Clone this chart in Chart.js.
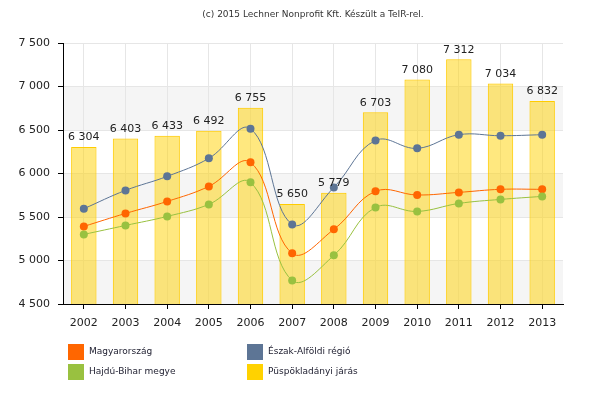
<!DOCTYPE html>
<html>
<head>
<meta charset="utf-8">
<script src="https://cdn.jsdelivr.net/npm/chart.js@4"></script>
<style>
  body { margin: 0; background: #fff; }
  #wrap { position: relative; width: 609px; height: 400px; }
  #legend { position: absolute; left: 68px; top: 344px; font: 9px 'DejaVu Sans', sans-serif; color: #223; }
  .item { position: absolute; width: 180px; height: 16px; }
  .item span.box { position: absolute; left: 0; top: 0; width: 16px; height: 16px; }
  .item span.txt { position: absolute; left: 21px; top: 2px; white-space: nowrap; }
</style>
</head>
<body>
<div id="wrap">
  <canvas id="chart" width="609" height="400"></canvas>
  <div id="legend"></div>
</div>
<script>
// data
const years = ['2002', '2003', '2004', '2005', '2006', '2007', '2008', '2009', '2010', '2011', '2012', '2013'];
const puspokladany = [6304, 6403, 6433, 6492, 6755, 5650, 5779, 6703, 7080, 7312, 7034, 6832];
const magyarorszag = [5392, 5541, 5679, 5852, 6128, 5082, 5358, 5795, 5753, 5783, 5818, 5818];
const eszakAlfold = [5595, 5806, 5967, 6174, 6515, 5415, 5840, 6380, 6289, 6446, 6434, 6446];
const hajduBihar = [5300, 5403, 5507, 5645, 5898, 4771, 5059, 5610, 5564, 5656, 5702, 5737];
const yTicks = [4500, 5000, 5500, 6000, 6500, 7000, 7500];

const titleText = '(c) 2015 Lechner Nonprofit Kft. Készült a TeIR-rel.';

function fmt(v) {
    return String(v).replace(/\B(?=(\d{3})+(?!\d))/g, ' ');
}

Chart.defaults.font.family = "'DejaVu Sans', sans-serif";
Chart.defaults.font.size = 11;
Chart.defaults.color = '#222';

// grey bands behind the grid
const bandsPlugin = {
    id: 'bands',
    beforeDraw(chart) {
        const ctx = chart.ctx, area = chart.chartArea, y = chart.scales.y;
        ctx.save();
        ctx.fillStyle = '#f5f5f5';
        for (let i = 0; i < yTicks.length - 1; i += 2) {
            const top = y.getPixelForValue(yTicks[i + 1]);
            const bottom = y.getPixelForValue(yTicks[i]);
            ctx.fillRect(area.left, top, area.right - area.left, bottom - top);
        }
        ctx.restore();
    }
};

// title text and values above the bars
const textPlugin = {
    id: 'texts',
    afterDatasetsDraw(chart) {
        const ctx = chart.ctx;
        ctx.save();
        ctx.font = "9px 'DejaVu Sans', sans-serif";
        ctx.fillStyle = '#333';
        ctx.textAlign = 'center';
        ctx.textBaseline = 'middle';
        ctx.fillText(titleText, 313, 15);

        ctx.font = "11px 'DejaVu Sans', sans-serif";
        ctx.fillStyle = '#222';
        ctx.textBaseline = 'bottom';
        const meta = chart.getDatasetMeta(3);
        meta.data.forEach((bar, i) => {
            ctx.fillText(fmt(puspokladany[i]), bar.x, bar.y - 4);
        });
        ctx.restore();
    }
};

function lineSet(label, data, color) {
    return {
        type: 'line',
        label: label,
        data: data,
        borderColor: color,
        backgroundColor: color,
        borderWidth: 1,
        pointRadius: 4,
        pointBorderWidth: 0,
        tension: 0.4,
        fill: false,
        order: 1
    };
}

const datasets = [
    lineSet('Hajdú-Bihar megye', hajduBihar, '#99c140'),
    lineSet('Magyarország', magyarorszag, '#ff6600'),
    lineSet('Észak-Alföldi régió', eszakAlfold, '#5d7595'),
    {
        type: 'bar',
        label: 'Püspökladányi járás',
        data: puspokladany,
        backgroundColor: 'rgba(255, 210, 0, 0.5)',
        borderColor: '#ffcc00',
        borderWidth: 1,
        barPercentage: 0.61,
        categoryPercentage: 1,
        order: 10
    }
];

new Chart(document.getElementById('chart').getContext('2d'), {
    type: 'bar',
    data: { labels: years, datasets: datasets },
    options: {
        responsive: false,
        animation: false,
        layout: { padding: { top: 43, right: 46, left: 0, bottom: 0 } },
        plugins: { legend: { display: false }, tooltip: { enabled: false } },
        scales: {
            x: {
                offset: true,
                grid: { offset: false, color: '#e6e6e6', tickColor: '#000', tickLength: 5 },
                border: { color: '#000' },
                ticks: { padding: 8, color: '#222' },
                afterFit(scale) { scale.height = 96; }
            },
            y: {
                min: 4500,
                max: 7500,
                afterBuildTicks(scale) { scale.ticks = yTicks.map(v => ({ value: v })); },
                grid: { color: '#e6e6e6', tickColor: '#000', tickLength: 5 },
                border: { color: '#000' },
                ticks: { padding: 8, color: '#222', callback: v => fmt(v) },
                afterFit(scale) { scale.width = 63; }
            }
        }
    },
    plugins: [bandsPlugin, textPlugin]
});

// legend in two columns
const legendItems = [
    ['Magyarország', '#ff6600', 0, 0],
    ['Észak-Alföldi régió', '#5d7595', 179, 0],
    ['Hajdú-Bihar megye', '#99c140', 0, 20],
    ['Püspökladányi járás', '#ffd200', 179, 20]
];
const legend = document.getElementById('legend');
legendItems.forEach(([name, color, x, y]) => {
    const div = document.createElement('div');
    div.className = 'item';
    div.style.left = x + 'px';
    div.style.top = y + 'px';
    div.innerHTML = '<span class="box" style="background:' + color + '"></span><span class="txt">' + name + '</span>';
    legend.appendChild(div);
});
</script>
</body>
</html>
